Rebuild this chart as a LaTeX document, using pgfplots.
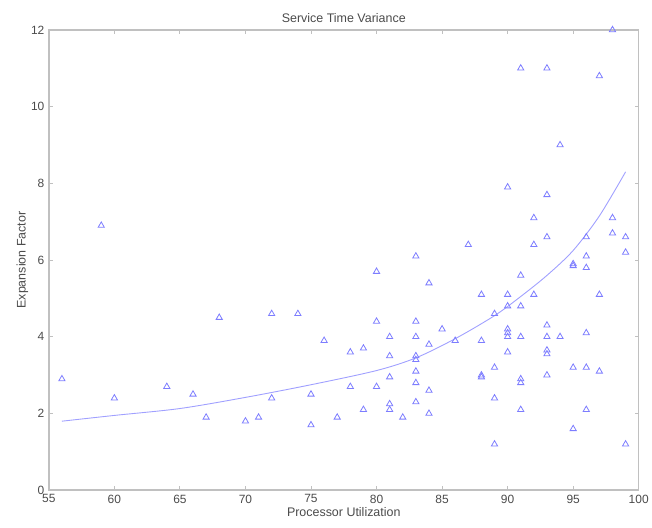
\documentclass[border=0pt]{standalone}
\usepackage{pgfplots}
\pgfplotsset{compat=1.18}
\usepackage{fontspec}
\setmainfont{Liberation Sans}
\definecolor{markblue}{RGB}{125,125,255}
\definecolor{fitblue}{RGB}{160,160,255}
\definecolor{framegray}{RGB}{192,192,192}
\definecolor{textgray}{RGB}{75,75,75}
\begin{document}
\begin{tikzpicture}
\begin{axis}[
    scale only axis,
    width=592pt, height=462pt,
    xmin=55, xmax=100, ymin=0, ymax=12,
    xtick={55,60,...,100}, ytick={0,2,...,12},
    tick align=inside,
    major tick length=4pt,
    axis line style={draw=framegray, line width=1.5pt},
    tick style={draw=framegray, line width=0.9pt},
    every tick label/.style={textgray},
    tick label style={font=\fontsize{12}{14}\selectfont},
    /pgf/number format/assume math mode=true,
    title={Service Time Variance},
    title style={textgray, font=\fontsize{12.5}{14}\selectfont, yshift=-2pt},
    xlabel={Processor Utilization},
    ylabel={Expansion Factor},
    label style={textgray, font=\fontsize{12.5}{14}\selectfont},
    xlabel style={yshift=3pt},
    ylabel style={yshift=-4pt},
    xticklabel style={yshift=-1pt},
    yticklabel style={xshift=-1pt},
]
\addplot[fitblue, line width=0.9pt, smooth] coordinates {
(56,1.80) (60,1.95) (65,2.13) (70,2.42) (75,2.75) (80,3.12) (83,3.45)
(86,3.95) (89,4.55) (91,5.05) (93,5.6) (95,6.25) (97,7.15) (99,8.3)
};
\addplot[only marks, mark=triangle, mark size=3.6pt, markblue, mark options={line width=0.8pt}] coordinates {
(56,2.9) (59,6.9) (60,2.4) (64,2.7) (66,2.5) (67,1.9) (68,4.5)
(70,1.8) (71,1.9) (72,4.6) (72,2.4) (74,4.6) (75,2.5) (75,1.7)
(76,3.9) (77,1.9) (78,3.6) (78,2.7) (79,3.7) (79,2.1)
(80,5.7) (80,4.4) (80,2.7) (81,4.0) (81,3.5) (81,2.95) (81,2.25) (81,2.1)
(82,1.9) (83,6.1) (83,4.4) (83,4.0) (83,3.5) (83,3.4) (83,3.1) (83,2.8) (83,2.3)
(84,5.4) (84,3.8) (84,2.6) (84,2.0) (85,4.2) (86,3.9) (87,6.4)
(88,5.1) (88,3.9) (88,3.0) (88,2.95) (89,4.6) (89,3.2) (89,2.4) (89,1.2)
(90,7.9) (90,5.1) (90,4.8) (90,4.2) (90,4.1) (90,4.0) (90,3.6)
(91,11.0) (91,5.6) (91,4.8) (91,4.0) (91,2.9) (91,2.8) (91,2.1)
(92,7.1) (92,6.4) (92,5.1)
(93,11.0) (93,7.7) (93,6.6) (93,4.3) (93,4.0) (93,3.65) (93,3.55) (93,3.0)
(94,9.0) (94,4.0) (95,5.9) (95,5.85) (95,3.2) (95,1.6)
(96,6.6) (96,6.1) (96,5.8) (96,4.1) (96,3.2) (96,2.1)
(97,10.8) (97,5.1) (97,3.1) (98,12.0) (98,7.1) (98,6.7)
(99,6.6) (99,6.2) (99,1.2)
};
\coordinate (sw) at (rel axis cs:0,0);
\coordinate (ne) at (rel axis cs:1,1);
\end{axis}
\path[use as bounding box] ([xshift=-49pt,yshift=-37pt]sw) rectangle ([xshift=11pt,yshift=30pt]ne);
\end{tikzpicture}
\end{document}
